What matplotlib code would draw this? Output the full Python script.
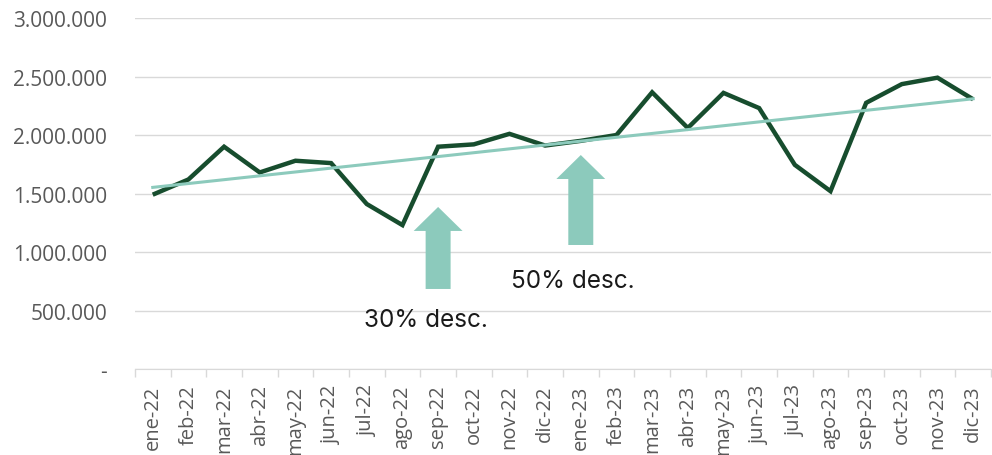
import numpy as np
import matplotlib
matplotlib.use("Agg")
import matplotlib.pyplot as plt
from matplotlib.ticker import FuncFormatter, FixedLocator

# Datos mensuales (ventas)
meses = ["ene-22", "feb-22", "mar-22", "abr-22", "may-22", "jun-22",
         "jul-22", "ago-22", "sep-22", "oct-22", "nov-22", "dic-22",
         "ene-23", "feb-23", "mar-23", "abr-23", "may-23", "jun-23",
         "jul-23", "ago-23", "sep-23", "oct-23", "nov-23", "dic-23"]
valores = [1490000, 1620000, 1900000, 1680000, 1780000, 1760000,
           1410000, 1230000, 1900000, 1920000, 2010000, 1910000,
           1950000, 2000000, 2365000, 2060000, 2360000, 2230000,
           1745000, 1520000, 2275000, 2435000, 2490000, 2305000]

# Campanas de descuento
campanas = ["30% desc.", "50% desc."]
campana_mes = ["sep-22", "ene-23"]

verde = "#174d2e"
verde_claro = "#8ccabc"
gris = "#595959"

x = np.arange(len(meses))
y = np.array(valores)

fig = plt.figure(figsize=(9.92, 4.56), dpi=100)
ax = fig.add_axes([0.136, 0.1886, 0.863, 0.7697])

# Serie principal y linea de tendencia
ax.plot(x, y, color=verde, lw=3.2, solid_joinstyle="miter", solid_capstyle="butt", zorder=3)
coef = np.polyfit(x, y, 1)
ax.plot(x, np.polyval(coef, x), color=verde_claro, lw=2.2, zorder=4)

# Flechas y textos de las campanas
flechas = [(1385000 - 684000, 684000), (1829000 - 1060000, 1060000)]
textos = [(-2.07, 367000), (-1.95, 701000)]
for nombre, mes, (largo, base), (dx, ty) in zip(campanas, campana_mes, flechas, textos):
    i = meses.index(mes)
    ax.arrow(i, base, 0, largo, width=0.7, head_width=1.37, head_length=205000,
             length_includes_head=True, color=verde_claro, lw=0, zorder=2)
    ax.text(i + dx, ty, nombre, fontsize=17.5, family="Inter", color="#1a1a1a",
            ha="left", va="baseline")

# Ejes
ax.set_xlim(-0.5, len(meses) - 0.5)
ax.set_ylim(0, 3000000)
ax.set_yticks(np.arange(0, 3000001, 500000))
ax.yaxis.set_major_formatter(FuncFormatter(
    lambda v, p: "-" if v == 0 else f"{v:,.0f}".replace(",", ".")))
ax.set_xticks(x)
ax.set_xticklabels(meses, rotation=90)
ax.xaxis.set_minor_locator(FixedLocator(np.arange(-0.5, len(meses), 1)))
ax.tick_params(axis="x", which="major", length=0, pad=11, labelsize=14.5, labelcolor=gris)
ax.tick_params(axis="x", which="minor", length=6, color="#d9d9d9", width=1)
ax.tick_params(axis="y", length=0, pad=20, labelsize=15, labelcolor=gris)
for lbl in ax.get_yticklabels() + ax.get_xticklabels():
    lbl.set_family("Open Sans")

ax.grid(axis="y", color="#d9d9d9", lw=1)
ax.set_axisbelow(True)
for s in ["top", "right", "left"]:
    ax.spines[s].set_visible(False)
ax.spines["bottom"].set_color("#d9d9d9")

plt.savefig("out.png", dpi=100)
